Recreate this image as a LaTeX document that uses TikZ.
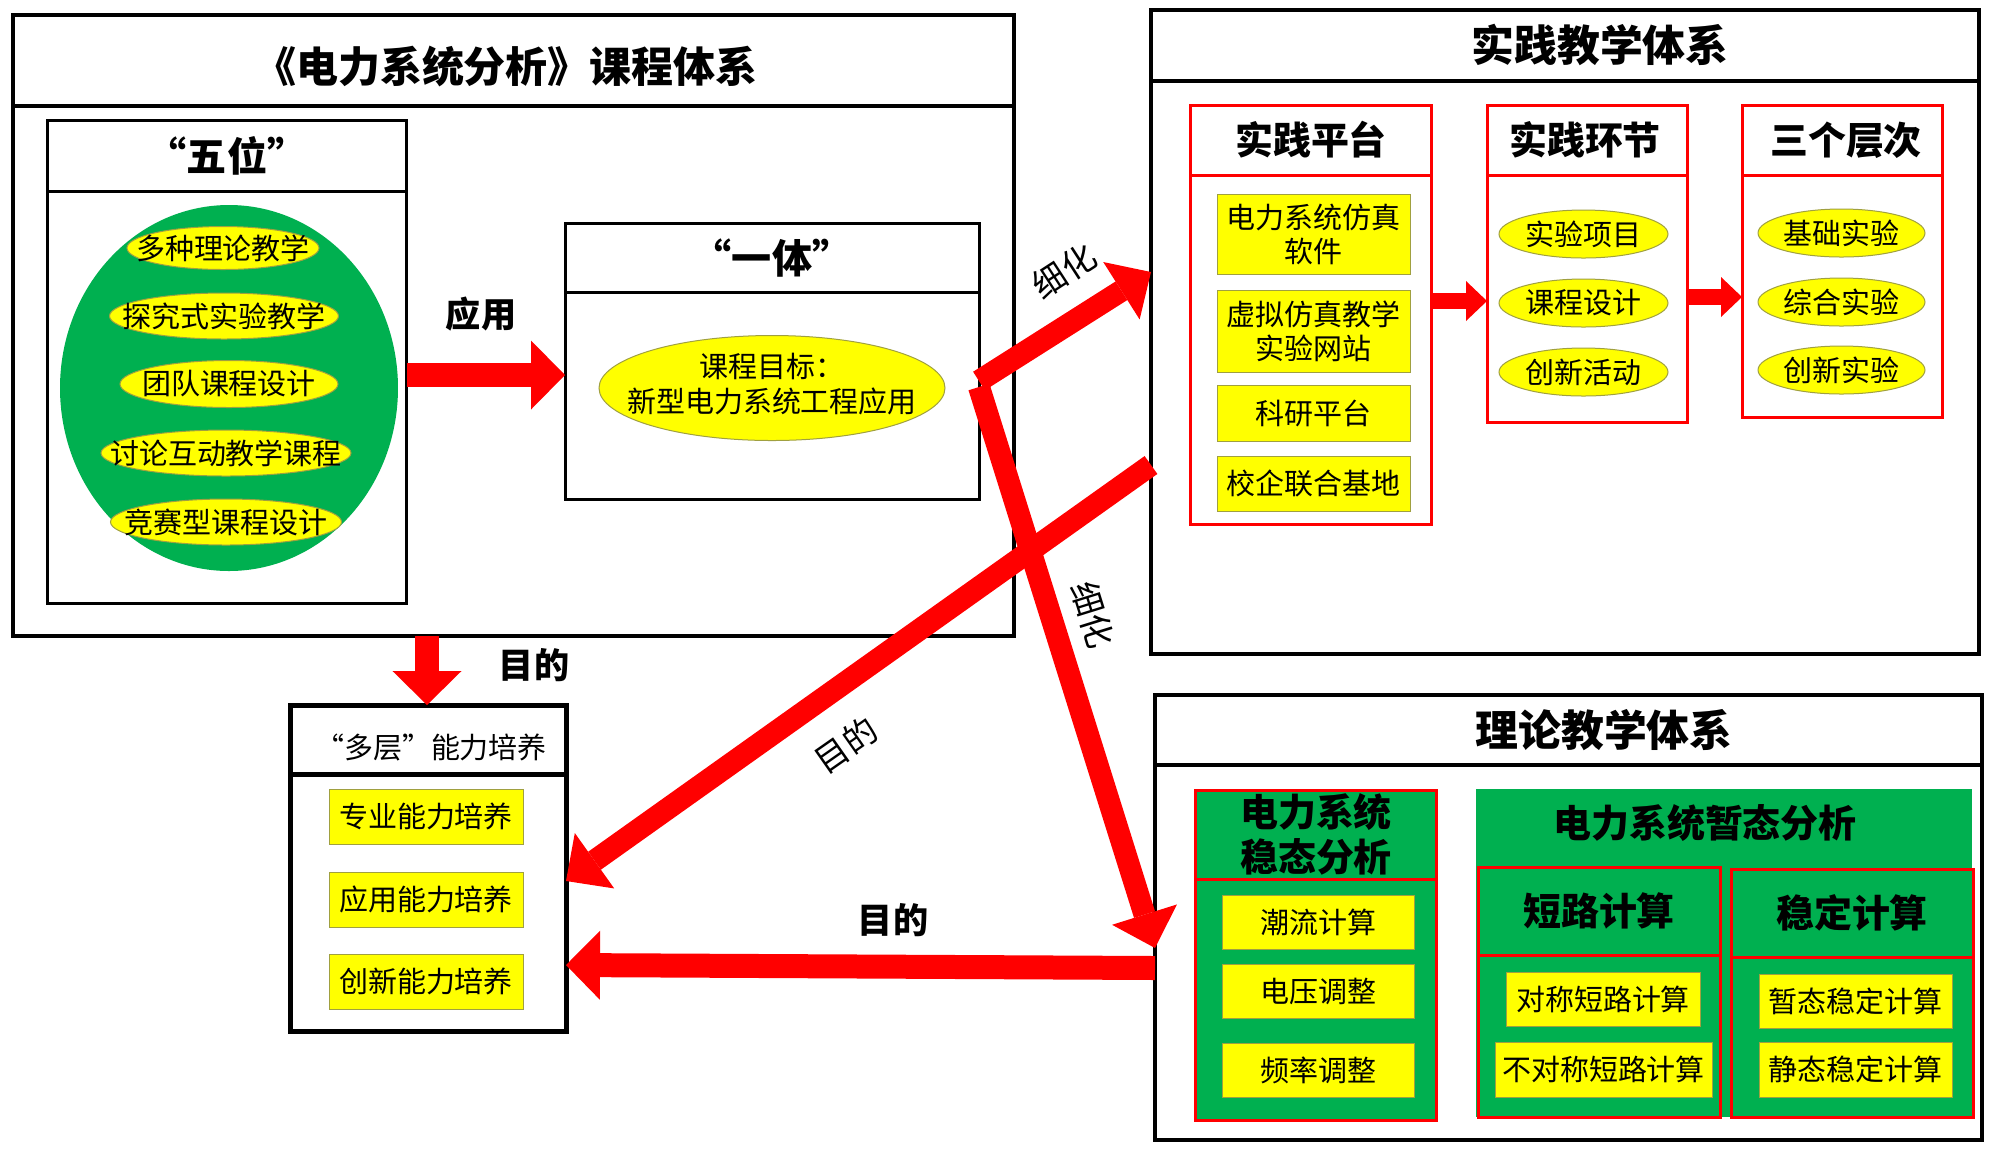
\documentclass[tikz,border=0pt]{standalone}
\usepackage{fontspec}
\setmainfont{Noto Sans CJK SC}
\usetikzlibrary{shapes.geometric,arrows.meta,calc}
\definecolor{pgreen}{HTML}{00B050}
\definecolor{pyellow}{HTML}{FFFF00}
\definecolor{pred}{HTML}{FF0000}
\definecolor{yedge}{HTML}{A0A040}
\begin{document}
\begin{tikzpicture}[x=0.1mm,y=-0.1mm,
  bigbox/.style={draw=black, line width=0.45mm, inner sep=0pt, outer sep=0pt},
  midbox/.style={draw=black, line width=0.3mm, inner sep=0pt, outer sep=0pt},
  redbox/.style={draw=pred, line width=0.3mm, inner sep=0pt, outer sep=0pt},
  grbox/.style={draw=pred, fill=pgreen, line width=0.3mm, inner sep=0pt, outer sep=0pt},
  yell/.style={ellipse, fill=pyellow, draw=yedge, line width=0.1mm, inner sep=0pt, outer sep=0pt, font=\tsmall},
  yrect/.style={rectangle, fill=pyellow, draw=yedge, line width=0.1mm, inner sep=0pt, outer sep=0pt, align=center, font=\tsmall},
  blk/.style={draw=pred, line width=2.4mm, -{Triangle[length=3.4mm, width=6.9mm, line width=0pt]}},
  dblk/.style={draw=pred, line width=2.2mm, -{Triangle[length=3.5mm, width=6.8mm, line width=0pt]}},
  sblk/.style={draw=pred, line width=1.6mm, -{Triangle[length=2.1mm, width=4mm, line width=0pt]}},
  ttl/.style={inner sep=0pt, font=\fontsize{12.2pt}{14pt}\selectfont\bfseries},
  hdr/.style={inner sep=0pt, font=\fontsize{11.4pt}{13pt}\selectfont\bfseries},
  sub/.style={inner sep=0pt, align=center, font=\fontsize{10.8pt}{12.8pt}\selectfont\bfseries},
  lblb/.style={inner sep=0pt, font=\fontsize{10pt}{12pt}\selectfont\bfseries},
  lbl/.style={inner sep=0pt, font=\fontsize{9.6pt}{11pt}\selectfont},
]
\newcommand{\tsmall}{\fontsize{8.25pt}{9.7pt}\selectfont}
\path[fill=white, use as bounding box] (0,0) rectangle (2000,1158);

% ---------- Box A ----------
\node[bigbox, minimum width=100.1mm, minimum height=62.1mm] (A) at (513.5,325.5) {};
\node[bigbox, minimum width=100.1mm, minimum height=9.1mm, anchor=north] (Ah) at (A.north) {};
\node[ttl, font=\fontsize{11.95pt}{14pt}\selectfont\bfseries] (At) at (506,66) {《电力系统分析》课程体系};

% five
\node[midbox, minimum width=36mm, minimum height=48.3mm] (W) at (227,361.5) {};
\node[midbox, minimum width=36mm, minimum height=7.1mm, anchor=north] (Wh) at (W.north) {};
\node[hdr] (Wt) at (Wh.center) {“五位”};
\node[ellipse, fill=pgreen, minimum width=33.8mm, minimum height=36.6mm, inner sep=0pt] (G) at (229,388) {};
\node[yell, minimum width=19.2mm, minimum height=4.3mm] (w1) at (223,248) {\makebox[0pt]{多种理论教学}};
\node[yell, minimum width=22.9mm, minimum height=4.6mm] (w2) at (224,316) {\makebox[0pt]{探究式实验教学}};
\node[yell, minimum width=21.8mm, minimum height=4.7mm] (w3) at (229,384) {\makebox[0pt]{团队课程设计}};
\node[yell, minimum width=25mm, minimum height=4.6mm] (w4) at (226,453) {\makebox[0pt]{讨论互动教学课程}};
\node[yell, minimum width=23.1mm, minimum height=4.6mm] (w5) at (226,522) {\makebox[0pt]{竞赛型课程设计}};

% one
\node[midbox, minimum width=41.4mm, minimum height=27.6mm] (Y) at (772,361) {};
\node[midbox, minimum width=41.4mm, minimum height=6.9mm, anchor=north] (Yh) at (Y.north) {};
\node[hdr] (Yt) at (Yh.center) {“一体”};
\node[yell, minimum width=34.6mm, minimum height=10.5mm] (ye) at (772,388) {\makebox[0pt]{\begin{tabular}{@{}c@{}}课程目标：\\新型电力系统工程应用\end{tabular}}};

% ---------- Box B ----------
\node[bigbox, minimum width=82.8mm, minimum height=64.4mm] (B) at (1565,332) {};
\node[bigbox, minimum width=82.8mm, minimum height=7.1mm, anchor=north] (Bh) at (B.north) {};
\node[ttl] (Bt) at (1600,45) {实践教学体系};

\node[redbox, minimum width=24.1mm, minimum height=41.9mm] (P) at (1310.5,314.5) {};
\node[redbox, minimum width=24.1mm, minimum height=7mm, anchor=north] (Ph) at (P.north) {};
\node[sub] (Pt) at (1311,140) {实践平台};
\node[yrect, minimum width=19.3mm, minimum height=8mm] (p1) at (1313.5,234) {电力系统仿真\\软件};
\node[yrect, minimum width=19.3mm, minimum height=8.2mm] (p2) at (1313.5,331) {虚拟仿真教学\\实验网站};
\node[yrect, minimum width=19.3mm, minimum height=5.6mm] (p3) at (1313.5,413) {科研平台};
\node[yrect, minimum width=19.3mm, minimum height=5.5mm] (p4) at (1313.5,483.5) {校企联合基地};

\node[redbox, minimum width=20mm, minimum height=31.7mm] (H) at (1587,263.5) {};
\node[redbox, minimum width=20mm, minimum height=7mm, anchor=north] (Hh) at (H.north) {};
\node[sub] (Ht) at (1585,140) {实践环节};
\node[yell, minimum width=16.9mm, minimum height=4.8mm] (h1) at (1583.5,234) {\makebox[0pt]{实验项目}};
\node[yell, minimum width=16.9mm, minimum height=4.8mm] (h2) at (1583.5,303) {\makebox[0pt]{课程设计}};
\node[yell, minimum width=16.9mm, minimum height=4.8mm] (h3) at (1583.5,372) {\makebox[0pt]{创新活动}};

\node[redbox, minimum width=20mm, minimum height=31.2mm] (L) at (1842,261) {};
\node[redbox, minimum width=20mm, minimum height=7mm, anchor=north] (Lh) at (L.north) {};
\node[sub] (Lt) at (1846,140) {三个层次};
\node[yell, minimum width=16.7mm, minimum height=4.8mm] (l1) at (1841.5,233) {\makebox[0pt]{基础实验}};
\node[yell, minimum width=16.7mm, minimum height=4.8mm] (l2) at (1841.5,302) {\makebox[0pt]{综合实验}};
\node[yell, minimum width=16.7mm, minimum height=4.8mm] (l3) at (1841.5,370) {\makebox[0pt]{创新实验}};

\draw[sblk] (P.east |- 0,301) -- (H.west |- 0,301);
\draw[sblk] (H.east |- 0,297) -- (L.west |- 0,297);

% ---------- Box C ----------
\node[bigbox, minimum width=82.7mm, minimum height=44.5mm] (C) at (1568.5,917.5) {};
\node[bigbox, minimum width=82.7mm, minimum height=7mm, anchor=north] (Ch) at (C.north) {};
\node[ttl] (Ct) at (1604,730) {理论教学体系};

\node[grbox, minimum width=24.1mm, minimum height=33mm] (S) at (1315.5,955) {};
\node[grbox, minimum width=24.1mm, minimum height=8.9mm, anchor=north] (Sh) at (S.north) {};
\node[sub] (St) at (1316,834.5) {电力系统\\稳态分析};
\node[yrect, minimum width=19.2mm, minimum height=5.4mm] (s1) at (1318,922) {潮流计算};
\node[yrect, minimum width=19.2mm, minimum height=5.4mm] (s2) at (1318,991) {电压调整};
\node[yrect, minimum width=19.2mm, minimum height=5.4mm] (s3) at (1318,1070) {频率调整};

\node[fill=pgreen, inner sep=0pt, minimum width=49.6mm, minimum height=32.8mm] (TZ) at (1724,953) {};
\node[sub] (TZt) at (1705,823) {电力系统暂态分析};

\node[grbox, minimum width=24.2mm, minimum height=25mm] (D) at (1599,992) {};
\node[grbox, minimum width=24.2mm, minimum height=8.8mm, anchor=north] (Dh) at (D.north) {};
\node[sub] (Dt) at (Dh.center) {短路计算};
\node[yrect, minimum width=19.4mm, minimum height=5.4mm] (d1) at (1603,999) {对称短路计算};
\node[yrect, minimum width=21.7mm, minimum height=5.5mm] (d2) at (1603.5,1069.5) {不对称短路计算};

\node[grbox, minimum width=24.2mm, minimum height=24.8mm] (T) at (1852,993) {};
\node[grbox, minimum width=24.2mm, minimum height=8.8mm, anchor=north] (Th) at (T.north) {};
\node[sub] (Tt) at (Th.center) {稳定计算};
\node[yrect, minimum width=19.3mm, minimum height=5.4mm] (t1) at (1855.5,1001) {暂态稳定计算};
\node[yrect, minimum width=19.3mm, minimum height=5.5mm] (t2) at (1855.5,1069.5) {静态稳定计算};

% ---------- multi-level ----------
\node[bigbox, line width=0.5mm, minimum width=27.6mm, minimum height=32.6mm] (M) at (428,868) {};
\node[bigbox, line width=0.5mm, minimum width=27.6mm, minimum height=6.9mm, anchor=north] (Mh) at (M.north) {};
\node[inner sep=0pt, font=\tsmall] (Mt) at (431,747) {“多层”能力培养};
\node[yrect, minimum width=19.4mm, minimum height=5.5mm] (m1) at (426,816.5) {专业能力培养};
\node[yrect, minimum width=19.4mm, minimum height=5.5mm] (m2) at (426,899.5) {应用能力培养};
\node[yrect, minimum width=19.4mm, minimum height=5.5mm] (m3) at (426,981.5) {创新能力培养};

% ---------- arrows ----------
\draw[blk] (W.east |- 0,375) -- (Y.west |- 0,375);
\draw[blk] (A.south -| 427,0) -- (M.north -| 427,0);
\draw[dblk] (Y.east |- 0,381) -- (B.west |- 0,272);
\draw[dblk] (Y.east |- 0,387) -- (C.west |- 0,948);
\draw[dblk] (B.west |- 0,465) -- (M.east |- 0,881);
\draw[blk] (C.west |- 0,968) -- (M.east |- 0,965);

\node[lblb] (ly) at (481,314) {应用};
\node[lblb] (lm1) at (534,665) {目的};
\node[lbl, rotate=35] (lm2) at (846,745) {目的};
\node[lblb] (lm3) at (893,920) {目的};
\node[lbl, rotate=33] (lx1) at (1064,271) {细化};
\node[lbl, rotate=-72.7] (lx2) at (1093,615) {细化};
\end{tikzpicture}
\end{document}
